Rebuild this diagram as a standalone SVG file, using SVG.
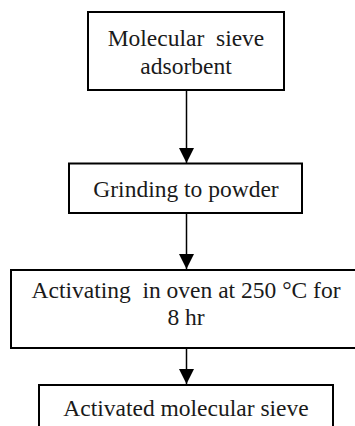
<svg xmlns="http://www.w3.org/2000/svg" width="355" height="426" viewBox="0 0 355 426">
<style>
.box{fill:#fff;stroke:#000;stroke-width:2}
.t{font-family:'Liberation Serif','Times New Roman',Times,serif;font-size:23.5px;fill:#1a1a1a;text-anchor:middle}
.ln{stroke:#000;stroke-width:1.5;fill:none}
</style>
<defs>
<marker id="ah" viewBox="0 0 15 15" refX="15" refY="7.5" markerWidth="15" markerHeight="15" markerUnits="userSpaceOnUse" orient="auto">
<path d="M0,0 L15,7.5 L0,15 Z" fill="#000"/>
</marker>
</defs>
<rect width="355" height="426" fill="#fff"/>
<g id="connectors">
<line class="ln" x1="186.5" y1="90" x2="186.5" y2="163" marker-end="url(#ah)"/>
<line class="ln" x1="186.5" y1="213" x2="186.5" y2="269" marker-end="url(#ah)"/>
<line class="ln" x1="186.5" y1="348" x2="186.5" y2="384" marker-end="url(#ah)"/>
</g>
<g id="node1">
<rect class="box" x="88" y="12" width="196" height="78"/>
<text class="t" x="186" y="46" font-family="Liberation Serif, serif" xml:space="preserve">Molecular  sieve</text>
<text class="t" x="186" y="74" font-family="Liberation Serif, serif">adsorbent</text>
</g>
<g id="node2">
<rect class="box" x="69" y="163.5" width="233" height="49.5"/>
<text class="t" x="186" y="197" font-family="Liberation Serif, serif">Grinding to powder</text>
</g>
<g id="node3">
<rect class="box" x="11" y="270" width="350" height="78"/>
<text class="t" x="186" y="298" font-family="Liberation Serif, serif" xml:space="preserve">Activating  in oven at 250 °C for</text>
<text class="t" x="186" y="325" font-family="Liberation Serif, serif">8 hr</text>
</g>
<g id="node4">
<rect class="box" x="39" y="385" width="294" height="60"/>
<text class="t" x="186" y="416" font-family="Liberation Serif, serif">Activated molecular sieve</text>
</g>
</svg>
